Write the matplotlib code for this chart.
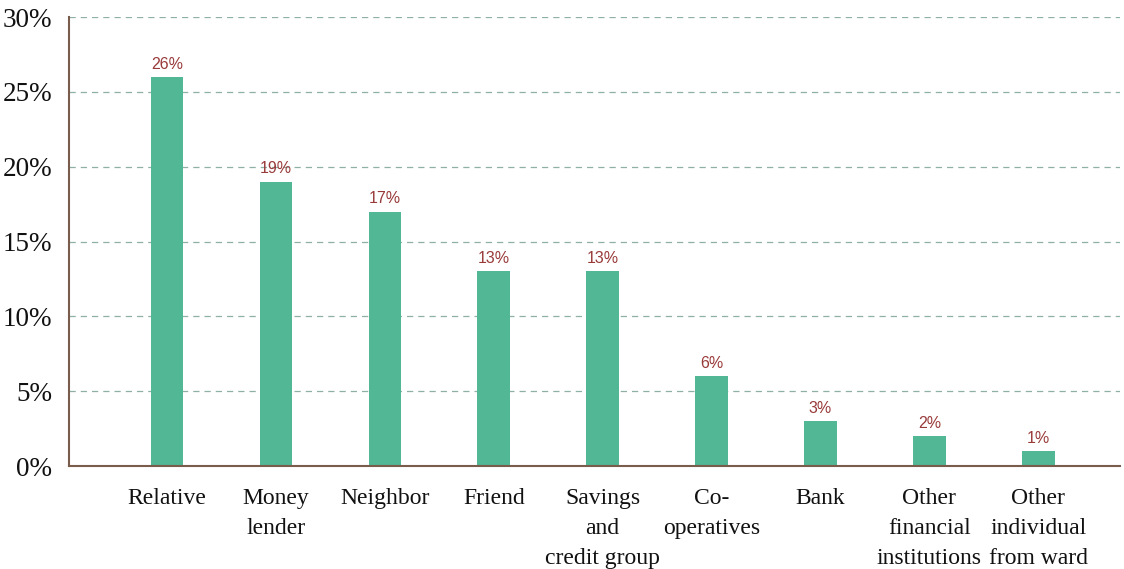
import numpy as np
import matplotlib.pyplot as plt

categories = ['Relative', 'Money\nlender', 'Neighbor', 'Friend', 'Savings\nand\ncredit group',
              'Co-\noperatives', 'Bank', 'Other\nfinancial\ninstitutions', 'Other\nindividual\nfrom ward']
values = [26, 19, 17, 13, 13, 6, 3, 2, 1]
yticks = [0, 5, 10, 15, 20, 25, 30]

bar_color = '#52b794'
label_color = '#993a3a'
spine_color = '#7a5c4c'
grid_color = '#8fb0a4'

fig = plt.figure(figsize=(11.24, 5.69), dpi=100)
ax = fig.add_axes([0.0614, 0.181, 0.935, 0.789])

x = np.arange(len(categories))
bars = ax.bar(x, values, width=0.3, color=bar_color, zorder=3)

for xi, v in zip(x, values):
    ax.text(xi, v + 0.35, '%d%%' % v, ha='center', va='bottom', color=label_color,
            fontsize=11.5, family='Liberation Sans')

ax.set_ylim(0, 30)
ax.set_xlim(-0.9, 8.75)
ax.set_yticks(yticks)
ax.set_yticklabels(['%d%%' % t for t in yticks], family='Liberation Serif', fontsize=19.5)
ax.set_xticks(x)
ax.set_xticklabels(categories, family='Liberation Serif', fontsize=17, linespacing=1.55)
ax.tick_params(axis='both', length=0, colors='#111111')
ax.tick_params(axis='x', pad=16)
ax.tick_params(axis='y', pad=12)

ax.yaxis.grid(True, linestyle=(0, (5, 4)), color=grid_color, linewidth=0.9, zorder=0)

for s in ['top', 'right']:
    ax.spines[s].set_visible(False)
for s in ['left', 'bottom']:
    ax.spines[s].set_color(spine_color)
    ax.spines[s].set_linewidth(1.5)
ax.spines['bottom'].set_zorder(4)

fig.savefig('out.png', dpi=100)
